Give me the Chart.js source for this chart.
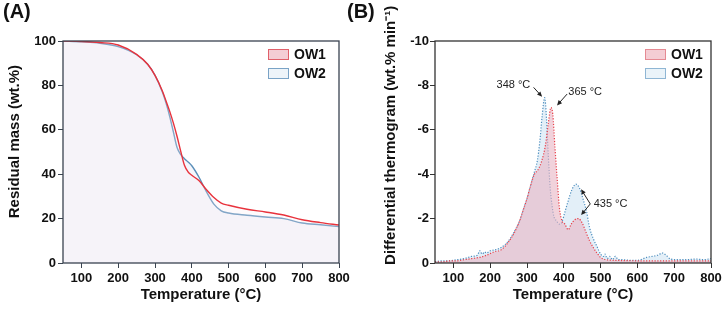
<!DOCTYPE html>
<html>
<head>
<meta charset="utf-8">
<script src="https://cdn.jsdelivr.net/npm/chart.js@4.4.0/dist/chart.umd.min.js"></script>
<style>
  body { margin: 0; background: #fff; }
  #wrap { position: relative; width: 725px; height: 313px; overflow: hidden; font-family: "Liberation Sans", Arial, sans-serif; }
  canvas { position: absolute; top: 0; }
  .panel { position: absolute; top: 1px; font-weight: bold; font-size: 20px; line-height: 20px; color: #111; z-index: 2; }
</style>
</head>
<body>
<div id="wrap">
  <canvas id="tg" width="362" height="313" style="left:0"></canvas>
  <canvas id="dtg" width="363" height="313" style="left:362px"></canvas>
  <div class="panel" style="left:3px">(A)</div>
  <div class="panel" style="left:347px">(B)</div>
</div>
<script>
// TG curves, residual mass (wt.%)
const tgTemp = [50, 100, 150, 200, 250, 280, 300, 320, 330, 340, 350, 360, 370, 380, 390, 400, 420, 440, 460, 480, 500, 550, 600, 650, 700, 750, 800];
const tgOW1  = [100, 99.8, 99.3, 98.2, 94, 89.5, 84.5, 77.5, 73, 68.3, 63, 57, 50.3, 44, 41, 39.5, 37, 33, 29.5, 27, 26, 24.2, 23, 21.6, 19.5, 18.2, 17.1];
const tgOW2  = [100, 99.6, 99, 97.5, 93.8, 89.5, 84.5, 77, 72, 66, 59, 52, 48.8, 47, 45.5, 43.8, 38.5, 32, 26.5, 23.5, 22.5, 21.5, 20.7, 20, 18, 17.2, 16.4];

// DTG curves (wt.% min-1)
const dtgTemp1 = [50, 70, 90, 110, 130, 150, 170, 190, 210, 230, 250, 265, 280, 290, 300, 310, 320, 330, 340, 350, 358, 365, 370, 376, 382, 388, 395, 403, 412, 420, 430, 440, 450, 460, 470, 480, 490, 500, 515, 540, 600, 650, 700, 750, 800];
const dtgOW1   = [-0.05, -0.05, -0.1, -0.1, -0.15, -0.2, -0.25, -0.35, -0.5, -0.6, -0.95, -1.35, -1.9, -2.4, -2.9, -3.5, -4.0, -4.2, -4.6, -5.3, -6.3, -7.0, -6.7, -5.2, -3.8, -2.5, -1.9, -1.75, -1.5, -1.75, -1.95, -2.0, -1.8, -1.4, -1.0, -0.7, -0.45, -0.25, -0.15, -0.12, -0.1, -0.1, -0.1, -0.1, -0.1];
const dtgTemp2 = [50, 70, 90, 110, 130, 150, 165, 172, 178, 185, 190, 200, 215, 230, 250, 265, 280, 290, 300, 310, 320, 328, 335, 341, 348, 353, 358, 363, 368, 373, 380, 388, 395, 403, 412, 422, 433, 442, 452, 462, 470, 480, 490, 500, 508, 512, 518, 525, 532, 540, 548, 560, 580, 600, 625, 640, 655, 668, 678, 690, 710, 730, 760, 780, 800];
const dtgOW2   = [-0.05, -0.1, -0.1, -0.15, -0.2, -0.3, -0.35, -0.55, -0.4, -0.5, -0.45, -0.55, -0.6, -0.7, -1.0, -1.4, -1.9, -2.4, -2.9, -3.5, -4.1, -4.6, -5.5, -6.6, -7.45, -6.5, -4.8, -3.4, -2.6, -2.1, -1.9, -1.75, -1.85, -2.3, -2.8, -3.3, -3.55, -3.4, -2.9, -2.3, -1.6, -1.1, -0.75, -0.4, -0.3, -0.4, -0.2, -0.3, -0.15, -0.3, -0.15, -0.15, -0.12, -0.12, -0.25, -0.3, -0.35, -0.45, -0.35, -0.18, -0.15, -0.15, -0.18, -0.15, -0.2];

const xTicks = [100, 200, 300, 400, 500, 600, 700, 800];
const tgTicks = [0, 20, 40, 60, 80, 100];
const dtgTicks = [0, -2, -4, -6, -8, -10];
const seriesNames = ["OW1", "OW2"];

const FONT = '"Liberation Sans", Arial, sans-serif';
Chart.defaults.font.family = FONT;
Chart.defaults.color = '#111';

const toPoints = (xs, ys) => xs.map((x, i) => ({ x: x, y: ys[i] }));

// box around the plot area
const frame = {
  id: 'frame',
  afterDatasetsDraw(chart, args, opts) {
    const a = chart.chartArea, ctx = chart.ctx;
    ctx.save();
    ctx.strokeStyle = opts.color;
    ctx.lineWidth = 1.3;
    ctx.strokeRect(a.left, a.top, a.right - a.left, a.bottom - a.top);
    ctx.restore();
  }
};

// legend with boxes in the top-right corner of the plot
const boxLegend = {
  id: 'boxLegend',
  afterDraw(chart, args, opts) {
    const ctx = chart.ctx, a = chart.chartArea;
    const x = a.right - opts.right;
    chart.data.datasets.forEach((ds, i) => {
      const y = a.top + 8 + i * 19;
      ctx.save();
      ctx.fillStyle = opts.fills[i];
      ctx.fillRect(x, y, 20, 10);
      ctx.strokeStyle = opts.strokes[i];
      ctx.lineWidth = 1;
      ctx.strokeRect(x + 0.5, y + 0.5, 20, 10);
      ctx.fillStyle = '#111';
      ctx.font = 'bold 14px ' + FONT;
      ctx.textBaseline = 'middle';
      ctx.fillText(ds.label, x + 26, y + 6);
      ctx.restore();
    });
  }
};

// peak labels with arrows (data coordinates)
const dtgNotes = [
  { text: '348 °C', at: [263, -8.0], from: [318, -7.91], to: [[341, -7.49]] },
  { text: '365 °C', at: [458, -7.72], from: [409, -7.61], to: [[381.6, -7.1]] },
  { text: '435 °C', at: [527, -2.66], from: [472, -2.66], to: [[447, -3.32], [447, -2.16]] }
];
const peakNotes = {
  id: 'peakNotes',
  afterDatasetsDraw(chart) {
    const ctx = chart.ctx, sx = chart.scales.x, sy = chart.scales.y;
    ctx.save();
    ctx.font = '11px ' + FONT;
    ctx.fillStyle = '#222';
    ctx.strokeStyle = '#222';
    ctx.lineWidth = 1;
    ctx.textAlign = 'center';
    ctx.textBaseline = 'middle';
    dtgNotes.forEach(n => {
      ctx.fillText(n.text, sx.getPixelForValue(n.at[0]), sy.getPixelForValue(n.at[1]));
      const fx = sx.getPixelForValue(n.from[0]), fy = sy.getPixelForValue(n.from[1]);
      n.to.forEach(t => {
        const tx = sx.getPixelForValue(t[0]), ty = sy.getPixelForValue(t[1]);
        const ang = Math.atan2(ty - fy, tx - fx);
        ctx.beginPath();
        ctx.moveTo(fx, fy);
        ctx.lineTo(tx - 3 * Math.cos(ang), ty - 3 * Math.sin(ang));
        ctx.stroke();
        ctx.beginPath();
        ctx.moveTo(tx, ty);
        ctx.lineTo(tx - 5 * Math.cos(ang) + 2.3 * Math.sin(ang), ty - 5 * Math.sin(ang) - 2.3 * Math.cos(ang));
        ctx.lineTo(tx - 5 * Math.cos(ang) - 2.3 * Math.sin(ang), ty - 5 * Math.sin(ang) + 2.3 * Math.cos(ang));
        ctx.closePath();
        ctx.fill();
      });
    });
    ctx.restore();
  }
};

function xScale(axisColor) {
  return {
    type: 'linear', min: 50, max: 800,
    afterBuildTicks: s => { s.ticks = xTicks.map(v => ({ value: v })); },
    afterFit: s => { s.height = 50; },
    border: { display: false },
    grid: { drawOnChartArea: false, drawTicks: true, tickLength: 5, color: axisColor },
    ticks: { font: { size: 13, weight: 'bold' }, padding: 3, maxRotation: 0 },
    title: { display: true, text: 'Temperature (°C)', font: { size: 15, weight: 'bold' }, padding: { top: 4, bottom: 9 } }
  };
}

new Chart(document.getElementById('tg'), {
  type: 'line',
  data: {
    datasets: [
      { label: seriesNames[0], data: toPoints(tgTemp, tgOW1), borderColor: '#e8323c', borderWidth: 1.4,
        backgroundColor: 'rgba(250,235,242,0.25)', fill: 'origin', pointRadius: 0, cubicInterpolationMode: 'monotone' },
      { label: seriesNames[1], data: toPoints(tgTemp, tgOW2), borderColor: '#5b8fb9', borderWidth: 1.4,
        backgroundColor: 'rgba(235,238,250,0.5)', fill: 'origin', pointRadius: 0, cubicInterpolationMode: 'monotone' }
    ]
  },
  options: {
    responsive: false, animation: false,
    layout: { padding: { left: 0, top: 41, right: 23, bottom: 0 } },
    plugins: {
      legend: { display: false }, tooltip: { enabled: false },
      frame: { color: '#3a4350' },
      boxLegend: { right: 71, fills: ['#f4cdd4', '#eef4f9'], strokes: ['#e0606a', '#7aa3c6'] }
    },
    scales: {
      x: xScale('#3a4350'),
      y: {
        min: 0, max: 100,
        afterBuildTicks: s => { s.ticks = tgTicks.map(v => ({ value: v })); },
        afterFit: s => { s.width = 63; },
        border: { display: false },
        grid: { drawOnChartArea: false, drawTicks: true, tickLength: 5, color: '#3a4350' },
        ticks: { font: { size: 13, weight: 'bold' }, padding: 2 },
        title: { display: true, text: '     Residual mass (wt.%)', font: { size: 15, weight: 'bold' }, padding: { top: 6, bottom: 0 } }
      }
    }
  },
  plugins: [frame, boxLegend]
});

new Chart(document.getElementById('dtg'), {
  type: 'line',
  data: {
    datasets: [
      { label: seriesNames[0], data: toPoints(dtgTemp1, dtgOW1), borderColor: '#e8404a', borderWidth: 1.2, borderDash: [1.2, 1.6],
        backgroundColor: 'rgba(232,180,195,0.6)', fill: 'origin', pointRadius: 0, cubicInterpolationMode: 'monotone' },
      { label: seriesNames[1], data: toPoints(dtgTemp2, dtgOW2), borderColor: '#4f8fbf', borderWidth: 1.2, borderDash: [1.2, 1.6],
        backgroundColor: 'rgba(218,234,245,0.75)', fill: 'origin', pointRadius: 0, cubicInterpolationMode: 'monotone' }
    ]
  },
  options: {
    responsive: false, animation: false,
    layout: { padding: { left: 0, top: 41, right: 14, bottom: 0 } },
    plugins: {
      legend: { display: false }, tooltip: { enabled: false },
      frame: { color: '#333' },
      boxLegend: { right: 66, fills: ['#f4cdd4', '#eaf3f9'], strokes: ['#e58a93', '#8fb6d4'] }
    },
    scales: {
      x: xScale('#333'),
      y: {
        min: -10, max: 0, reverse: true,
        afterBuildTicks: s => { s.ticks = dtgTicks.map(v => ({ value: v })); },
        afterFit: s => { s.width = 73; },
        border: { display: false },
        grid: { drawOnChartArea: false, drawTicks: true, tickLength: 5, color: '#333' },
        ticks: { font: { size: 13, weight: 'bold' }, padding: 1 },
        title: { display: true, text: '        Differential thermogram (wt.% min\u207B\u00B9)', font: { size: 15, weight: 'bold' }, padding: { top: 20, bottom: 0 } }
      }
    }
  },
  plugins: [frame, boxLegend, peakNotes]
});
</script>
</body>
</html>
